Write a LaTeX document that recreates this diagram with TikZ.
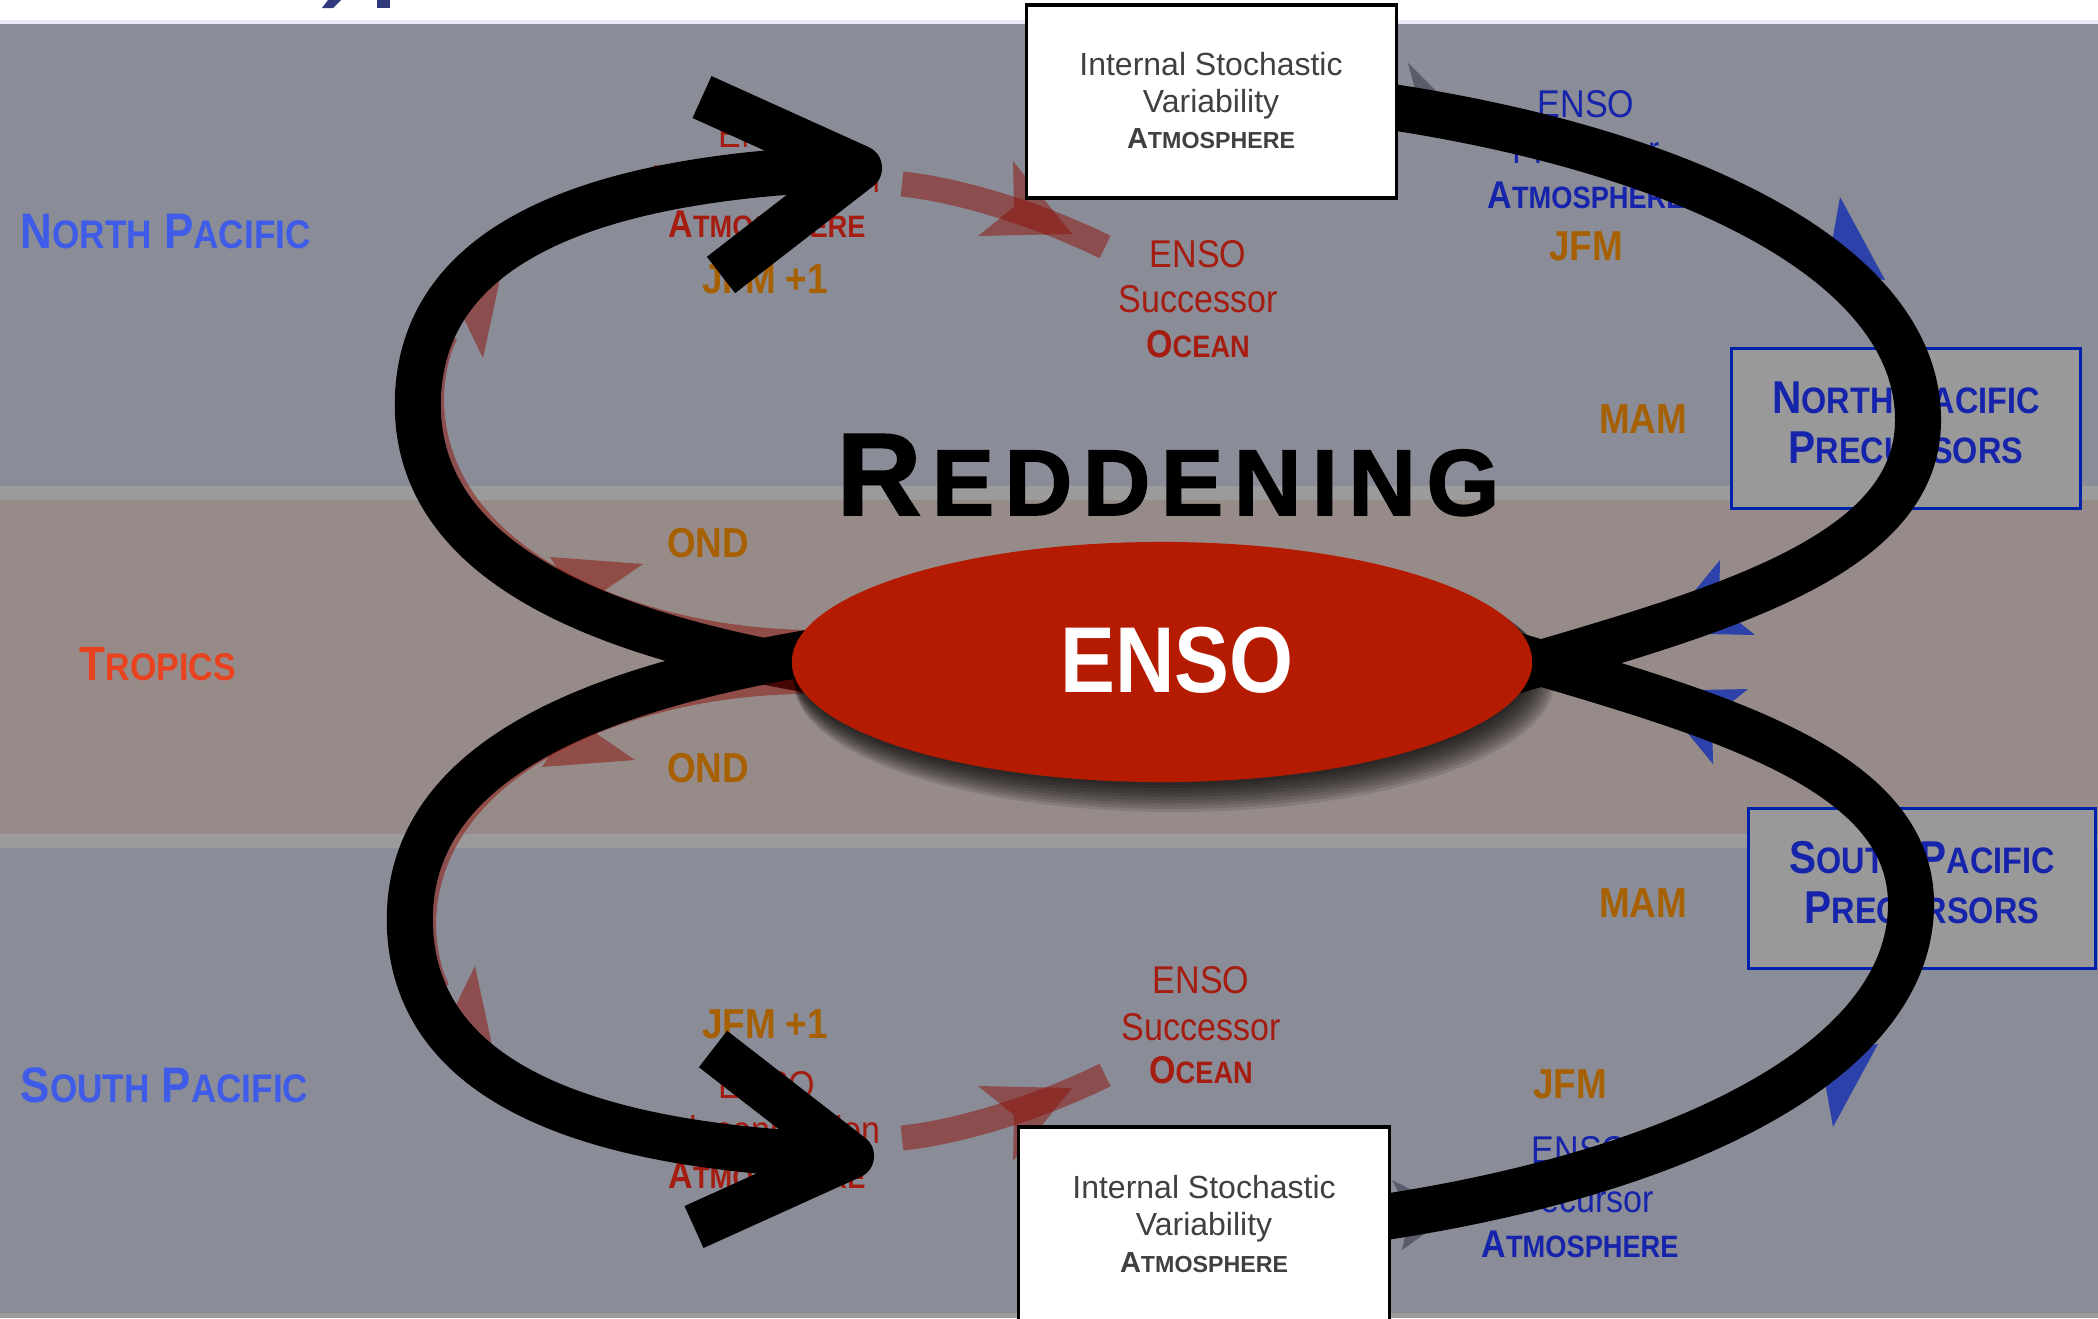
\documentclass[tikz,border=0pt]{standalone}
\usepackage{fontspec}
\usepackage{graphicx}
\setmainfont{Liberation Sans}
\newfontfamily\nar{Liberation Sans}[FakeStretch=0.88]
\newfontfamily\heavy{Liberation Sans}[FakeBold=1.6,BoldFeatures={FakeBold=1.6}]
\usetikzlibrary{calc,shapes.geometric}
\newcommand\fs[1]{\fontsize{#1}{#1}\selectfont}
\newcommand\sm[1]{\scalebox{0.8}{#1}}
\definecolor{bandc}{RGB}{138,140,151}
\definecolor{tropc}{RGB}{150,139,137}
\definecolor{sepc}{RGB}{155,155,155}
\definecolor{topline}{RGB}{233,235,251}
\definecolor{navy}{RGB}{46,58,124}
\definecolor{regblue}{RGB}{62,92,232}
\definecolor{tropred}{RGB}{232,66,30}
\definecolor{seasonc}{RGB}{166,96,0}
\definecolor{darkred}{RGB}{165,28,16}
\definecolor{darkblue}{RGB}{22,36,172}
\definecolor{boxtext}{RGB}{64,64,64}
\definecolor{ensored}{RGB}{180,27,0}
\definecolor{precfill}{RGB}{153,153,153}
\definecolor{precline}{RGB}{0,34,170}
\definecolor{arrred}{RGB}{140,15,5}
\definecolor{arrblue}{RGB}{45,65,170}
\definecolor{arrgray}{RGB}{90,92,108}

\newcommand\leftgroup{%
 \draw[redarr, line width=0.2cm] (815,640) .. controls (640,640) and (436,560) .. (434,400) .. controls (434,375) and (440,350) .. (448,335);
 \fill[redhead] (550,557) -- (643,564) -- (605,590) -- (601,636) -- cycle;
 \fill[redhead] (503,265) -- (483,358) -- (463,317) -- (418,307) -- cycle;
 \draw[blk] (840,675) .. controls (620,640) and (410,570) .. (418,395) .. controls (426,230) and (620,175) .. (859,168);
 \draw[blk, line join=round] (702,97) -- (859,168) -- (721,275);
}
\newcommand\bandgroup{%
 \draw[redarr, line width=0.25cm] (902,184) .. controls (960,190) and (1040,215) .. (1105,247);
 \fill[redhead] (1072,234) -- (1013,161) -- (1014,207) -- (978,236) -- cycle;
}
\newcommand\rightgroup{%
 \fill[bluehead] (1885,280) -- (1840,197) -- (1832,242) -- (1792,264) -- cycle;
 \fill[bluehead] (1660,633) -- (1720,560) -- (1719,606) -- (1755,635) -- cycle;
 \draw[blk] (1385,106) .. controls (1680,150) and (1918,260) .. (1918,420) .. controls (1918,570) and (1680,620) .. (1450,690);
}

\begin{document}
\begin{tikzpicture}[x=0.01cm,y=-0.01cm,
  blk/.style={draw=black,line width=0.46cm,line cap=butt},
  redarr/.style={draw=arrred,draw opacity=0.5},
  redhead/.style={fill=arrred,fill opacity=0.5},
  bluehead/.style={fill=arrblue},
  grayhead/.style={fill=arrgray},
  txt/.style={inner sep=0pt,anchor=base},
  labreg/.style={txt,font=\nar\fs{11pt}},
  labbold/.style={txt,font=\nar\bfseries\fs{11pt}},
  seasonlbl/.style={txt,font=\nar\bfseries\fs{11.9pt},text=seasonc},
  sidelbl/.style={inner sep=0pt,anchor=base west,font=\nar\bfseries\fs{14.2pt}},
  boxtxt/.style={txt,font=\fs{9.1pt},text=boxtext},
  boxbold/.style={txt,font=\bfseries\fs{8.25pt},text=boxtext},
  prectxt/.style={txt,font=\nar\bfseries\fs{13.1pt},text=darkblue},
  wbox/.style={draw=black,line width=0.9pt,fill=white,inner sep=0pt},
  pbox/.style={draw=precline,line width=0.85pt,fill=precfill,inner sep=0pt},
]
\useasboundingbox (0,0) rectangle (2098,1318);
% background bands
\fill[white] (0,0) rectangle (2098,1318);
\fill[topline] (0,20) rectangle (2098,24);
\fill[bandc] (0,24) rectangle (2098,486);
\fill[sepc] (0,486) rectangle (2098,500);
\fill[tropc] (0,500) rectangle (2098,834);
\fill[sepc] (0,834) rectangle (2098,848);
\fill[bandc] (0,848) rectangle (2098,1313);
\fill[sepc] (0,1313) rectangle (2098,1318);
% cut-off title fragments
\fill[navy] (328,0) -- (341,0) -- (333,8) -- (322,8) -- cycle;
\fill[navy] (377,0) rectangle (390,8);

% side labels
\node[sidelbl,text=regblue] (np) at (20,248) {N\sm{ORTH} P\sm{ACIFIC}};
\node[sidelbl,text=tropred,font=\nar\bfseries\fs{13.7pt}] (tr) at (79,680) {T\sm{ROPICS}};
\node[sidelbl,text=regblue] (sp) at (20,1102) {S\sm{OUTH} P\sm{ACIFIC}};

% seasons
\node[seasonlbl] (ond1) at (708,557) {OND};
\node[seasonlbl] (ond2) at (708,782) {OND};
\node[seasonlbl] (jfmp1) at (765,293) {JFM +1};
\node[seasonlbl] (jfmp2) at (765,1038) {JFM +1};
\node[seasonlbl] (jfm1) at (1586,260) {JFM};
\node[seasonlbl] (jfm2) at (1570,1098) {JFM};
\node[seasonlbl] (mam1) at (1643,433) {MAM};
\node[seasonlbl] (mam2) at (1643,917) {MAM};

% teleconnection labels (left)
\node[labreg,text=darkred] (te1) at (767,147) {ENSO};
\node[labreg,text=darkred] (te2) at (767,192) {Teleconnection};
\node[labbold,text=darkred] (te3) at (767,237) {A\sm{TMOSPHERE}};
\node[labreg,text=darkred] (tf1) at (767,1098) {ENSO};
\node[labreg,text=darkred] (tf2) at (767,1143) {Teleconnection};
\node[labbold,text=darkred] (tf3) at (767,1188) {A\sm{TMOSPHERE}};

% successor labels
\node[labreg,text=darkred] (su1) at (1198,267) {ENSO};
\node[labreg,text=darkred] (su2) at (1198,312) {Successor};
\node[labbold,text=darkred] (su3) at (1198,357) {O\sm{CEAN}};
\node[labreg,text=darkred] (sv1) at (1201,993) {ENSO};
\node[labreg,text=darkred] (sv2) at (1201,1040) {Successor};
\node[labbold,text=darkred] (sv3) at (1201,1083) {O\sm{CEAN}};

% precursor labels
\node[labreg,text=darkblue] (pr1) at (1586,117) {ENSO};
\node[labreg,text=darkblue] (pr2) at (1586,163) {Precursor};
\node[labbold,text=darkblue] (pr3) at (1586,208) {A\sm{TMOSPHERE}};
\node[labreg,text=darkblue] (ps1) at (1580,1163) {ENSO};
\node[labreg,text=darkblue] (ps2) at (1580,1212) {Precursor};
\node[labbold,text=darkblue] (ps3) at (1580,1257) {A\sm{TMOSPHERE}};

% precursor boxes
\node[pbox,minimum width=3.48cm,minimum height=1.59cm] (npbox) at (1906,428.5) {};
\node[prectxt] (npt1) at (1906,413) {N\sm{ORTH} P\sm{ACIFIC}};
\node[prectxt] (npt2) at (1906,463) {P\sm{RECURSORS}};
\node[pbox,minimum width=3.46cm,minimum height=1.59cm] (spbox) at (1922,888.5) {};
\node[prectxt] (spt1) at (1922,873) {S\sm{OUTH} P\sm{ACIFIC}};
\node[prectxt] (spt2) at (1922,923) {P\sm{RECURSORS}};

% arrows
\leftgroup
\begin{scope}[shift={(-8,1324)},yscale=-1]\leftgroup\end{scope}
\bandgroup
\begin{scope}[shift={(0,1322)},yscale=-1]\bandgroup\end{scope}
\fill[grayhead] (1448,103) -- (1408,63) -- (1418,100) -- (1408,128) -- cycle;
\fill[grayhead] (1455,1212) -- (1392,1180) -- (1410,1214) -- (1402,1250) -- cycle;
\rightgroup
\begin{scope}[shift={(-7,1324)},yscale=-1]\rightgroup\end{scope}

% ENSO ellipse with shadow
\foreach \i in {1,...,10}{
  \fill[black,opacity=0.11] ({1162+1.2*\i},{662+2*\i}) ellipse [x radius={370+\i}, y radius={120+\i}];
}
\node[ellipse,fill=ensored,minimum width=7.4cm,minimum height=2.4cm,inner sep=0pt] (enso) at (1162,662) {};
\node[txt,font=\nar\bfseries\fs{26.6pt},text=white] (ensot) at (1177,692) {ENSO};

% white boxes
\node[wbox,minimum width=3.69cm,minimum height=1.93cm] (topbox) at (1211.5,101.5) {};
\node[boxtxt] (tb1) at (1211,75) {Internal Stochastic};
\node[boxtxt] (tb2) at (1211,112) {Variability};
\node[boxbold] (tb3) at (1211,148) {A\sm{TMOSPHERE}};
\node[wbox,minimum width=3.70cm,minimum height=2.03cm] (botbox) at (1204,1228.5) {};
\node[boxtxt] (bb1) at (1204,1198) {Internal Stochastic};
\node[boxtxt] (bb2) at (1204,1235) {Variability};
\node[boxbold] (bb3) at (1204,1272) {A\sm{TMOSPHERE}};

% title word
\node[inner sep=0pt,anchor=base west,font=\heavy\bfseries] (redd) at (836,515)
  {\fs{33.3pt}R\kern3pt\fs{26.6pt}E\kern3pt D\kern3pt D\kern3pt E\kern3pt N\kern3pt I\kern3pt N\kern3pt G};
\end{tikzpicture}
\end{document}
